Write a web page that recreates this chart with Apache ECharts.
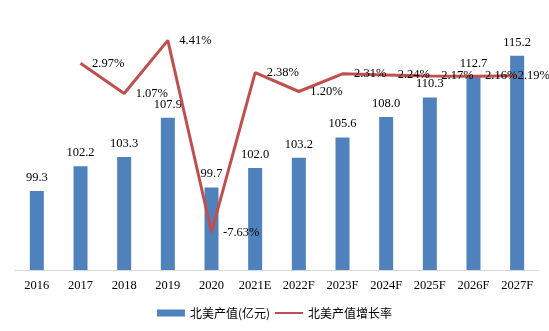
<!DOCTYPE html>
<html>
<head>
<meta charset="utf-8">
<script src="https://cdn.jsdelivr.net/npm/echarts@6/dist/echarts.min.js"></script>
<style>
  html, body { margin: 0; padding: 0; background: #fff; }
  #chart { width: 549px; height: 331px; }
</style>
</head>
<body>
<div id="chart"></div>
<script>
// Years (E = estimate, F = forecast)
const categories = ['2016', '2017', '2018', '2019', '2020', '2021E', '2022F', '2023F', '2024F', '2025F', '2026F', '2027F'];
// North American output value, 100M CNY
const outputValues = [99.3, 102.2, 103.3, 107.9, 99.7, 102.0, 103.2, 105.6, 108.0, 110.3, 112.7, 115.2];
// Year-over-year growth, %
const growthRates = [null, 2.97, 1.07, 4.41, -7.63, 2.38, 1.20, 2.31, 2.24, 2.17, 2.16, 2.19];

const serif = '"Liberation Serif", "Times New Roman", serif';
const fontSize = 12.5;
const chart = echarts.init(document.getElementById('chart'));

// The last growth label sits tight to its point so it stays inside the canvas
const growthData = growthRates.map((v, i) =>
  i === growthRates.length - 1 ? { value: v, label: { distance: 0 } } : v
);

chart.setOption({
  animation: false,
  backgroundColor: '#fff',
  grid: { left: 15, right: 10, top: 15, bottom: 61, containLabel: false },
  legend: {
    bottom: 7,
    left: 'center',
    itemWidth: 28,
    itemHeight: 7,
    itemGap: 4,
    textStyle: { fontFamily: '"Noto Sans CJK SC", sans-serif', fontSize: 12, color: '#000' },
    data: [
      { name: '北美产值(亿元)', icon: 'rect' },
      { name: '北美产值增长率' }
    ]
  },
  xAxis: {
    type: 'category',
    data: categories,
    axisLine: { onZero: false, lineStyle: { color: '#d9d9d9', width: 1 } },
    axisTick: { show: false },
    axisLabel: { interval: 0, color: '#000', fontFamily: serif, fontSize: fontSize, margin: 9 }
  },
  yAxis: [
    { type: 'value', min: 90, max: 120, show: false, splitLine: { show: false } },
    { type: 'value', min: -10, max: 6, show: false, splitLine: { show: false } }
  ],
  series: [
    {
      name: '北美产值(亿元)',
      type: 'bar',
      data: outputValues,
      barWidth: 14,
      itemStyle: { color: '#4F81BD' },
      label: {
        show: true,
        position: 'top',
        distance: 7,
        color: '#000',
        fontFamily: serif,
        fontSize: fontSize,
        formatter: p => p.value.toFixed(1)
      }
    },
    {
      name: '北美产值增长率',
      type: 'line',
      yAxisIndex: 1,
      data: growthData,
      symbol: 'circle',
      symbolSize: 1,
      itemStyle: { color: 'rgba(192,80,77,0)', borderWidth: 0 },
      lineStyle: { color: '#C0504D', width: 3 },
      label: {
        show: true,
        position: 'right',
        distance: 11,
        color: '#000',
        fontFamily: serif,
        fontSize: fontSize,
        formatter: p => p.value.toFixed(2) + '%'
      },
      z: 3
    }
  ]
});
</script>
</body>
</html>
